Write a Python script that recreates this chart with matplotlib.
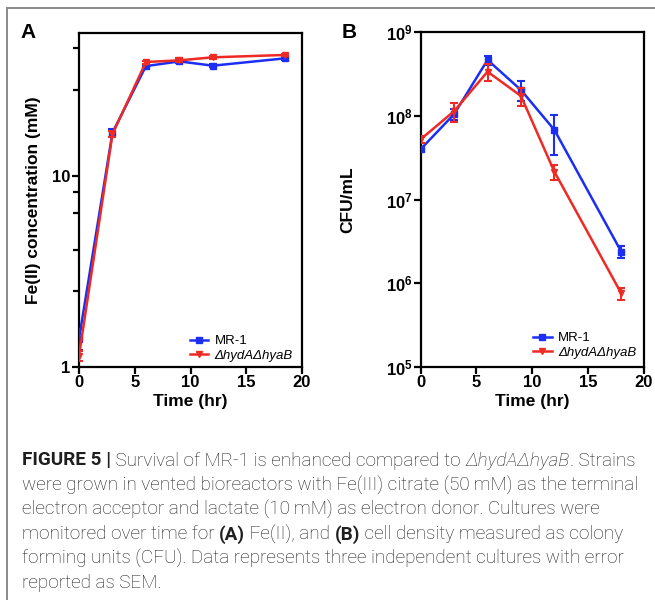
import numpy as np
import matplotlib
matplotlib.use('Agg')
import matplotlib.pyplot as plt
from matplotlib.lines import Line2D
from matplotlib.ticker import FixedLocator, NullFormatter

plt.rcParams['font.family'] = ['Liberation Sans', 'DejaVu Sans']
plt.rcParams['mathtext.fontset'] = 'custom'
plt.rcParams['mathtext.bf'] = 'Liberation Sans:bold'
plt.rcParams['mathtext.rm'] = 'Liberation Sans'

BLUE = '#1c2ef2'
RED = '#ee2a24'
STRAINS = ['MR-1', 'ΔhydAΔhyaB']

# Panel A: Fe(II) concentration (mM)
time_a = [0, 3, 6, 9, 12, 18.5]
fe_mr1 = [1.40, 16.8, 37.5, 39.7, 37.7, 41.2]
fe_mr1_err = [0.17, 0.8, 0.6, 0.8, 0.7, 0.6]
fe_mut = [1.14, 16.5, 39.4, 40.2, 41.7, 42.9]
fe_mut_err = [0.07, 0.6, 0.7, 1.0, 0.6, 0.6]

# Panel B: CFU/mL
time_b = [0, 3, 6, 9, 12, 18]
cfu_mr1 = [4.0e7, 1.05e8, 4.67e8, 2.04e8, 6.8e7, 2.38e6]
cfu_mr1_err = [0.3e7, 0.15e8, 0.6e8, 0.55e8, 3.4e7, 0.4e6]
cfu_mut = [5.25e7, 1.14e8, 3.38e8, 1.73e8, 2.15e7, 7.55e5]
cfu_mut_err = [0.45e7, 0.3e8, 0.75e8, 0.4e8, 0.45e7, 1.3e5]

xticks = [0, 5, 10, 15, 20]
a_yticks = [1, 10]
a_yticklabels = ['1', '10']
a_minor = [2.5, 4.1, 6.4, 8.2, 28, 46.5]
b_yticks = [1e5, 1e6, 1e7, 1e8, 1e9]
b_yticklabels = [r'$\mathbf{10^{5}}$', r'$\mathbf{10^{6}}$', r'$\mathbf{10^{7}}$',
                 r'$\mathbf{10^{8}}$', r'$\mathbf{10^{9}}$']

caption = [
    [('FIGURE 5 |', 'bold'), (' Survival of MR-1 is enhanced compared to ', 'normal'),
     ('ΔhydAΔhyaB', 'italic'), ('. Strains', 'normal')],
    [('were grown in vented bioreactors with Fe(III) citrate (50\u2009mM) as the terminal', 'normal')],
    [('electron acceptor and lactate (10\u2009mM) as electron donor. Cultures were', 'normal')],
    [('monitored over time for ', 'normal'), ('(A)', 'bold'), (' Fe(II), and ', 'normal'),
     ('(B)', 'bold'), (' cell density measured as colony', 'normal')],
    [('forming units (CFU). Data represents three independent cultures with error', 'normal')],
    [('reported as SEM.', 'normal')],
]

W, H = 655, 600
fig = plt.figure(figsize=(W / 100, H / 100), dpi=100)


def style_axes(ax):
    for sp in ax.spines.values():
        sp.set_linewidth(1.6)
        sp.set_color('black')
    ax.tick_params(which='both', direction='out', width=1.6, top=False, right=False)
    ax.tick_params(which='major', length=5, labelsize=12, pad=1)
    ax.tick_params(which='minor', length=4)
    for lab in ax.get_xticklabels() + ax.get_yticklabels():
        lab.set_fontweight('bold')


def draw(ax, t, v1, e1, v2, e2, anchor):
    ax.errorbar(t, v1, yerr=e1, color=BLUE, lw=1.8, marker='s', ms=4,
                capsize=3, capthick=1.5, elinewidth=1.5, label=STRAINS[0], zorder=3)
    ax.errorbar(t, v2, yerr=e2, color=RED, lw=1.8, marker='v', ms=4,
                capsize=3, capthick=1.5, elinewidth=1.5, label=STRAINS[1], zorder=4)
    ax.set_xlim(0, 20)
    ax.set_xticks(xticks)
    ax.set_xlabel('Time (hr)', fontsize=12.5, fontweight='bold', labelpad=3)
    handles, labels = ax.get_legend_handles_labels()
    handles = [h[0] for h in handles]
    leg = ax.legend(handles, labels, loc='lower right', bbox_to_anchor=anchor,
                    frameon=False, fontsize=9.5, borderpad=0, borderaxespad=0,
                    handlelength=1.4, handletextpad=0.5, labelspacing=0.15)
    leg.get_texts()[1].set_fontstyle('italic')


# ---------------- Panel A ----------------
axA = fig.add_axes([79 / W, 1 - 366.7 / H, (302 - 79) / W, (366.7 - 33.3) / H])
axA.set_yscale('log')
draw(axA, time_a, fe_mr1, fe_mr1_err, fe_mut, fe_mut_err, (1 - 9 / 223, 5 / 333))
axA.set_ylim(1, 55.7)
axA.yaxis.set_major_locator(FixedLocator(a_yticks))
axA.set_yticklabels(a_yticklabels)
axA.yaxis.set_minor_locator(FixedLocator(a_minor))
axA.yaxis.set_minor_formatter(NullFormatter())
axA.set_ylabel('Fe(II) concentration (mM)', fontsize=12.5, fontweight='bold', labelpad=8)
style_axes(axA)

# ---------------- Panel B ----------------
axB = fig.add_axes([420.7 / W, 1 - 366.7 / H, (643.5 - 420.7) / W, (366.7 - 32.3) / H])
axB.set_yscale('log')
draw(axB, time_b, cfu_mr1, cfu_mr1_err, cfu_mut, cfu_mut_err, (1 - 7 / 223, 8 / 334))
axB.set_ylim(1e5, 1e9)
axB.yaxis.set_major_locator(FixedLocator(b_yticks))
axB.set_yticklabels(b_yticklabels)
axB.yaxis.set_minor_locator(FixedLocator([]))
axB.set_ylabel('CFU/mL', fontsize=12.5, fontweight='bold', labelpad=22)
style_axes(axB)

fig.text(20 / W, 1 - 33 / H, 'A', fontsize=15, fontweight='bold', va='center')
fig.text(342 / W, 1 - 33 / H, 'B', fontsize=15, fontweight='bold', va='center')

# gray frame (left and top edges)
fig.add_artist(Line2D([7 / W, 7 / W], [0, 1 - 8 / H], color='#8a8a8a', lw=1.4))
fig.add_artist(Line2D([7 / W, 1], [1 - 8 / H, 1 - 8 / H], color='#8a8a8a', lw=1.4))

# ---------------- caption ----------------
renderer = fig.canvas.get_renderer()
y0, dy = 460.5, 24.6
for i, runs in enumerate(caption):
    x = 22.0
    y = 1 - (y0 + i * dy) / H
    for s, st in runs:
        kw = dict(fontsize=13.6, color='#1e1e1e', va='center', ha='left',
                  family=['Roboto', 'DejaVu Sans'])
        if st == 'bold':
            kw['fontweight'] = 'bold'
        elif st == 'italic':
            kw['fontstyle'] = 'italic'
            kw['fontweight'] = 'light'
        else:
            kw['fontweight'] = 'light'
        t = fig.text(x / W, y, s, **kw)
        x += t.get_window_extent(renderer).width

fig.savefig('out.png', dpi=100)
